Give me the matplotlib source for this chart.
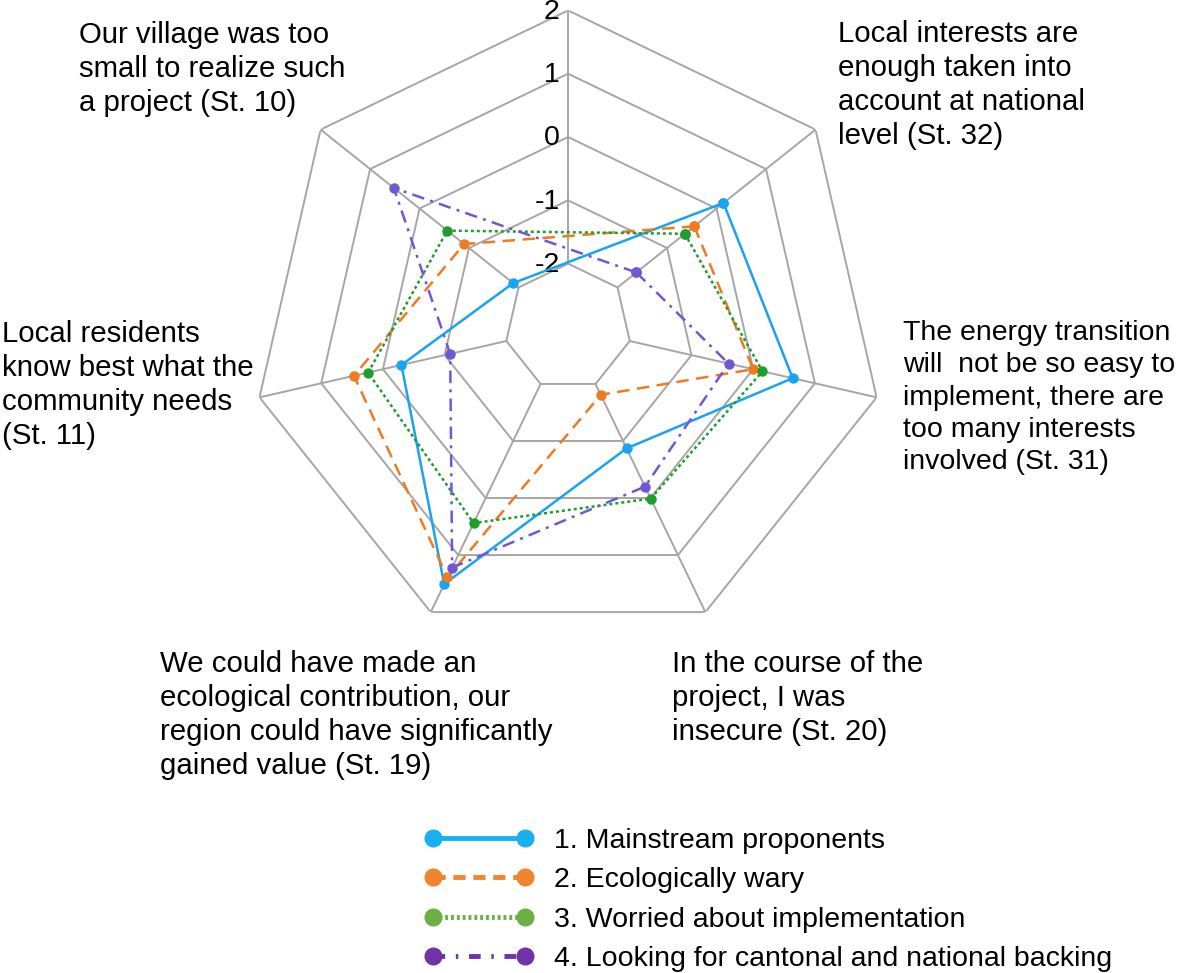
import matplotlib.pyplot as plt
from matplotlib.lines import Line2D
import numpy as np

plt.rcParams['font.family'] = ['Liberation Sans', 'DejaVu Sans']

# statements, clockwise from the (unlabelled) top spoke
statements = ["St. 32", "St. 31", "St. 20", "St. 19", "St. 11", "St. 10"]
n_spokes = 7
series_names = ["1. Mainstream proponents", "2. Ecologically wary",
                "3. Worried about implementation",
                "4. Looking for cantonal and national backing"]
mainstream = [0.14, 0.64, -0.87, 1.51, -0.30, -1.89]
eco_wary = [-0.45, 0.00, -1.81, 1.39, 0.47, -0.90]
worried = [-0.64, 0.15, 0.01, 0.44, 0.24, -0.56]
backing = [-1.62, -0.40, -0.20, 1.22, -1.09, 0.52]
ring_values = [-2, -1, 0, 1, 2]
r_min, r_max = -3, 2

line_colors = ["#1aa3ef", "#ee7a22", "#1f9d2d", "#7257d3"]
legend_colors = ["#1ab0ef", "#f0852f", "#6daf45", "#7033a8"]
styles = ["-", (0, (5, 3)), (0, (1.2, 1.2)), (0, (5, 2.5, 1.2, 2.5))]

fig = plt.figure(figsize=(11.81, 9.73), dpi=100)
ax = fig.add_axes([0.4810 - 0.268, 0.664 - 0.3253, 0.536, 0.6506], projection="polar")
ax.set_theta_zero_location("N")
ax.set_theta_direction(-1)
ax.set_ylim(r_min, r_max)
ax.grid(False)
ax.spines["polar"].set_visible(False)
ax.set_xticks([])
ax.set_yticks([])

angles = np.arange(n_spokes) * 2 * np.pi / n_spokes
closed = np.append(angles, angles[0])

# heptagon rings
for v in ring_values:
    ax.plot(closed, [v] * len(closed), color="#a6a6a6", lw=1.4, zorder=1)
# spokes
for a in angles:
    ax.plot([a, a], [ring_values[0], ring_values[-1]], color="#a6a6a6", lw=1.4, zorder=1)

for v in ring_values:
    ax.annotate(str(v), (0, v), xytext=(-6, -1), textcoords="offset points",
                ha="right", va="center", fontsize=20.5)

# data lines skip the top spoke
data_angles = angles[1:]
for vals, c, ls in zip([mainstream, eco_wary, worried, backing], line_colors, styles):
    th = np.append(data_angles, data_angles[0])
    r = np.append(vals, vals[0])
    ax.plot(th, r, color=c, ls=ls, lw=1.8, marker="o", ms=6.5, zorder=3)

label_texts = [
    ("Our village was too\nsmall to realize such\na project (St. 10)", 79, 21, 21.2),
    ("Local interests are\nenough taken into\naccount at national\nlevel (St. 32)", 838, 20, 21.2),
    ("Local residents\nknow best what the\ncommunity needs\n(St. 11)", 2, 320, 21.2),
    ("The energy transition\nwill  not be so easy to\nimplement, there are\ntoo many interests\ninvolved (St. 31)", 903, 320, 20.5),
    ("We could have made an\necological contribution, our\nregion could have significantly\ngained value (St. 19)", 160, 650, 21.2),
    ("In the course of the\nproject, I was\ninsecure (St. 20)", 672, 650, 21.2),
]
W, H = 1181, 973
for txt, px, py, fs in label_texts:
    fig.text(px / W, 1 - py / H, txt, ha="left", va="top", fontsize=fs,
             linespacing=1.27 * 21.2 / fs)

handles = [Line2D([], [], color=c, ls=ls, lw=3.5, marker="o", ms=12)
           for c, ls in zip(legend_colors, ["-", (0, (2.5, 1.6)), (0, (0.6, 0.6)), (0, (2.4, 2.2, 0.5, 2.2))])]
fig.legend(handles, series_names, loc="upper left", bbox_to_anchor=(424 / W, 1 - 828 / H),
           frameon=False, fontsize=20.5, handlelength=3.85, numpoints=2, labelspacing=0.47,
           handletextpad=0.7, borderpad=0, borderaxespad=0)

fig.savefig("out.png", dpi=100)
